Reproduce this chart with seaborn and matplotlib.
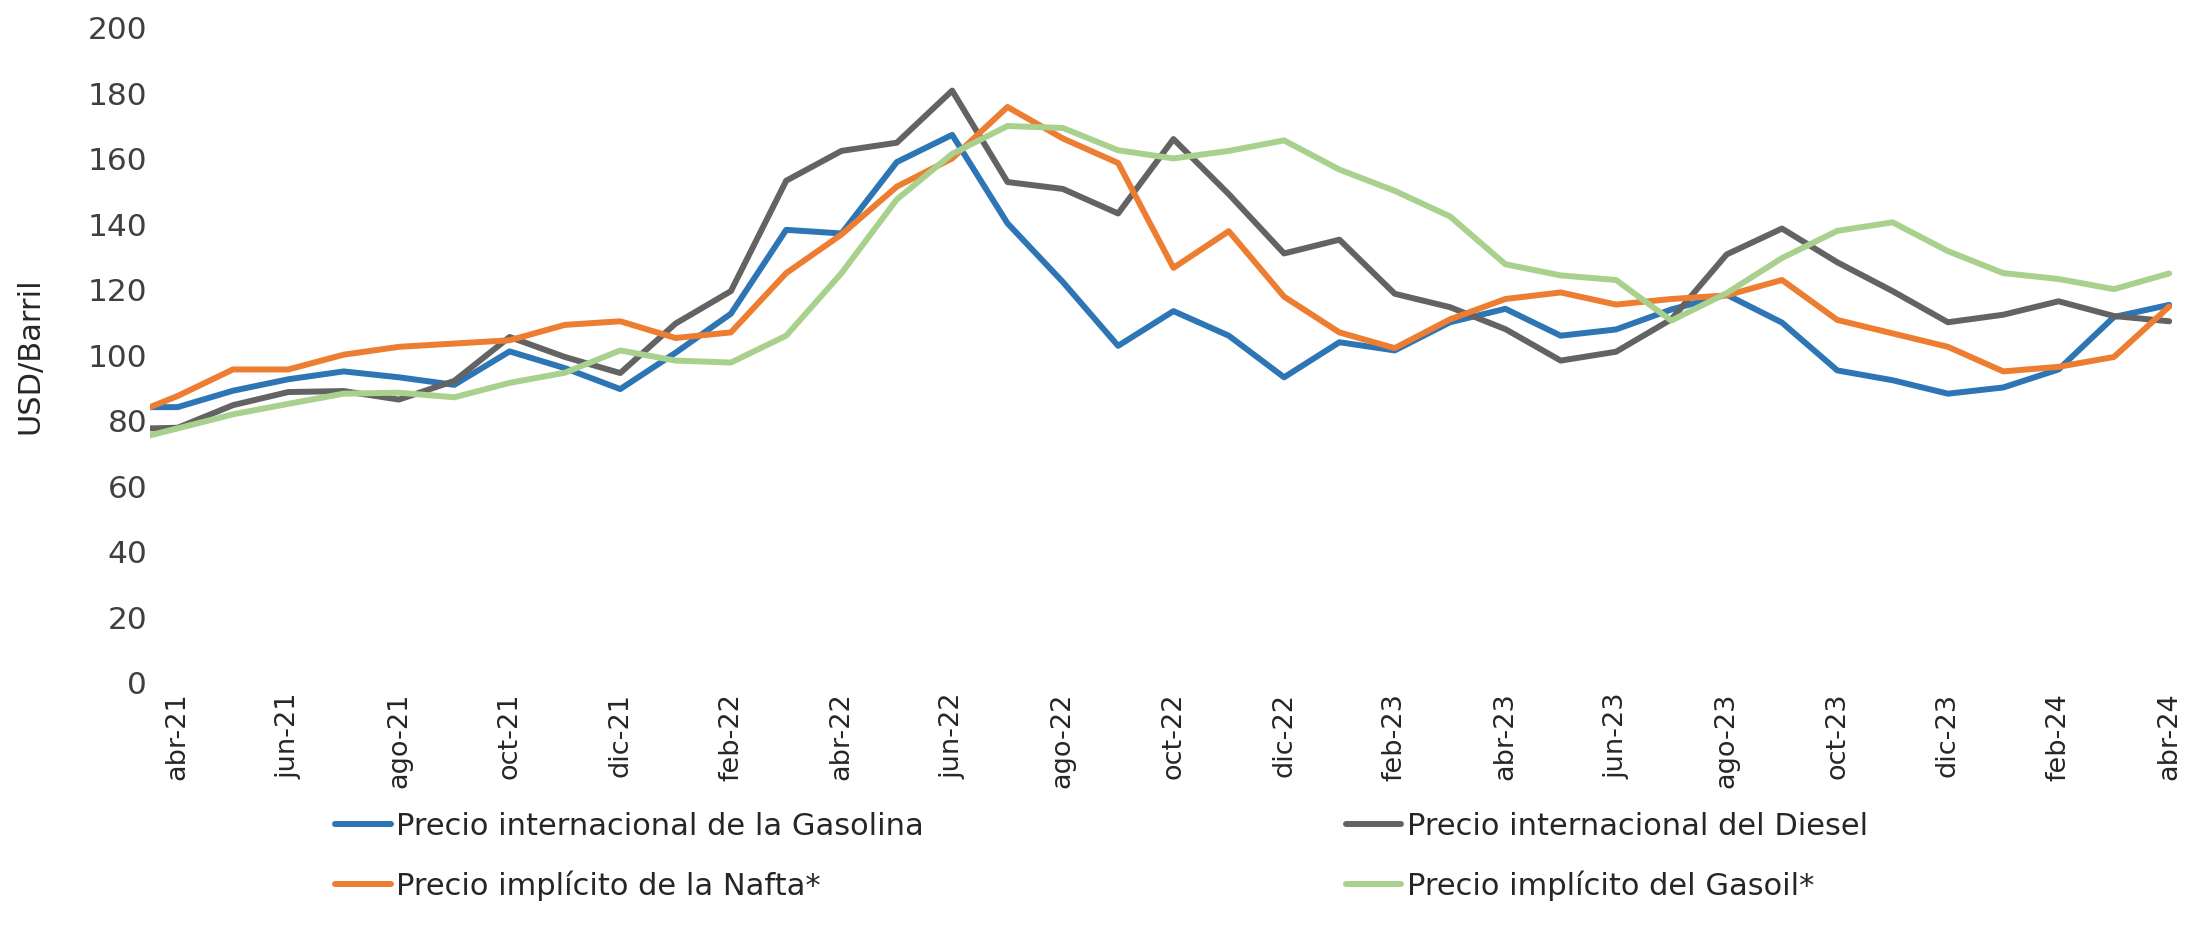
import numpy as np
import pandas as pd
import seaborn as sns
import matplotlib.pyplot as plt

# Meses (mar-21 solo aparece cortado en el borde izquierdo)
meses = ["mar-21", "abr-21", "may-21", "jun-21", "jul-21", "ago-21", "sep-21", "oct-21",
         "nov-21", "dic-21", "ene-22", "feb-22", "mar-22", "abr-22", "may-22", "jun-22",
         "jul-22", "ago-22", "sep-22", "oct-22", "nov-22", "dic-22", "ene-23", "feb-23",
         "mar-23", "abr-23", "may-23", "jun-23", "jul-23", "ago-23", "sep-23", "oct-23",
         "nov-23", "dic-23", "ene-24", "feb-24", "mar-24", "abr-24"]

gasolina = [84.2, 84.2, 89.2, 92.7, 95.1, 93.3, 91.0, 101.2, 96.1, 89.7,
            100.8, 112.7, 138.3, 137.2, 159.0, 167.3, 140.3, 122.4, 102.9, 113.5,
            106.0, 93.3, 104.0, 101.5, 110.1, 114.2, 106.0, 107.9, 114.0, 118.5,
            110.0, 95.4, 92.4, 88.3, 90.2, 95.7, 111.7, 115.4]

diesel = [77.5, 77.9, 84.8, 88.8, 89.1, 86.5, 92.2, 105.6, 99.5, 94.6,
          109.7, 119.6, 153.3, 162.4, 164.9, 180.8, 152.9, 150.8, 143.3, 166.0,
          149.2, 131.1, 135.3, 118.8, 114.7, 108.0, 98.4, 101.1, 111.0, 130.8,
          138.7, 128.4, 119.6, 110.1, 112.4, 116.5, 112.0, 110.4]

nafta = [80.8, 87.6, 95.7, 95.7, 100.2, 102.6, 103.6, 104.6, 109.3, 110.4,
         105.3, 107.0, 125.1, 136.9, 151.5, 160.1, 175.8, 166.2, 158.7, 126.7,
         137.9, 117.9, 107.0, 102.2, 111.0, 117.2, 119.2, 115.5, 117.2, 118.3,
         123.0, 110.8, 106.7, 102.6, 95.1, 96.5, 99.5, 114.9]

gasoil = [73.5, 77.7, 82.0, 85.2, 88.3, 88.6, 87.2, 91.6, 94.7, 101.5,
          98.4, 97.8, 106.0, 125.1, 147.6, 161.5, 170.0, 169.4, 162.6, 160.1,
          162.4, 165.6, 156.7, 150.2, 142.4, 127.8, 124.4, 123.0, 110.6, 119.0,
          129.7, 138.0, 140.6, 131.8, 125.1, 123.3, 120.2, 125.0]

series = {
    "Precio internacional de la Gasolina": gasolina,
    "Precio internacional del Diesel": diesel,
    "Precio implícito de la Nafta*": nafta,
    "Precio implícito del Gasoil*": gasoil,
}
colores = {
    "Precio internacional de la Gasolina": "#2E75B6",
    "Precio internacional del Diesel": "#636363",
    "Precio implícito de la Nafta*": "#ED7D31",
    "Precio implícito del Gasoil*": "#A9D18E",
}

filas = []
for nombre, valores in series.items():
    for i, v in enumerate(valores):
        filas.append({"pos": i, "mes": meses[i], "serie": nombre, "valor": v})
datos = pd.DataFrame(filas)

sns.set_style("white")
plt.rcParams["font.family"] = ["DejaVu Sans"]

fig = plt.figure(figsize=(21.87, 9.44), dpi=100)
ax = fig.add_axes([150 / 2187, 261 / 944, 2022 / 2187, 655.3 / 944])

sns.lineplot(data=datos, x="pos", y="valor", hue="serie", palette=colores,
             hue_order=list(series.keys()), linewidth=4.3, ax=ax, legend=False,
             solid_capstyle="round", solid_joinstyle="round")

ax.set_xlim(0.5, 37.05)
ax.set_ylim(0, 200)
ax.set_yticks(np.arange(0, 201, 20))
ax.set_yticklabels([str(v) for v in range(0, 201, 20)], fontsize=22.5, color="#404040")
pos_ticks = list(range(1, len(meses), 2))
ax.set_xticks(pos_ticks)
ax.set_xticklabels([meses[p] for p in pos_ticks], rotation=90, fontsize=19.5, color="#262626")
ax.tick_params(axis="both", length=0)
ax.tick_params(axis="x", pad=7)
ax.tick_params(axis="y", pad=2)
ax.set_xlabel("")
ax.set_ylabel("USD/Barril", fontsize=22, color="#262626")
ax.yaxis.set_label_coords(-0.052, 0.5)
for s in ax.spines.values():
    s.set_visible(False)

# Leyenda en dos columnas (orden por filas como en el original)
orden = ["Precio internacional de la Gasolina", "Precio implícito de la Nafta*",
         "Precio internacional del Diesel", "Precio implícito del Gasoil*"]
handles = [plt.Line2D([], [], color=colores[n], linewidth=4.3) for n in orden]
fig.legend(handles, orden, loc="upper left", bbox_to_anchor=(335 / 2187, 1 - 812 / 944),
           ncol=2, frameon=False, fontsize=22, handlelength=1.82, handletextpad=0.18,
           columnspacing=13.8, labelspacing=0.95, borderpad=0, borderaxespad=0,
           labelcolor="#262626")

plt.savefig("out.png", dpi=100)
plt.close()
